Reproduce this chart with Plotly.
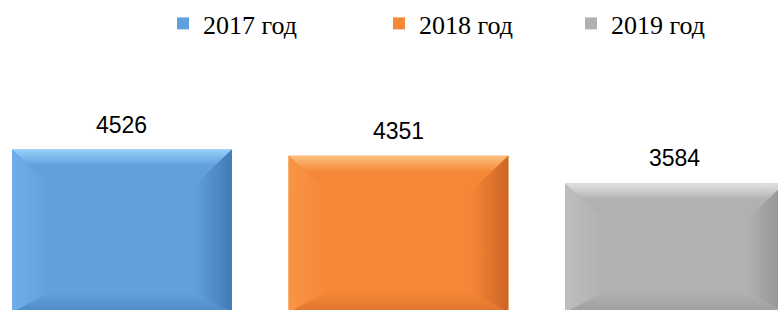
import plotly.graph_objects as go

# ---- data ----
years = ["2017 год", "2018 год", "2019 год"]
values = [4526, 4351, 3584]

# ---- style ----
face = ["rgb(98,160,221)", "rgb(245,136,55)", "rgb(177,177,177)"]
top_c = ["rgb(150,208,250)", "rgb(253,192,128)", "rgb(225,225,225)"]
left_c = ["rgb(110,174,232)", "rgb(249,148,68)", "rgb(190,190,190)"]
right_c = ["rgb(66,122,182)", "rgb(205,102,36)", "rgb(145,145,145)"]
bottom_c = ["rgb(78,138,198)", "rgb(222,116,44)", "rgb(158,158,158)"]

W, H = 778, 310
X_RANGE = [-0.441, 2.3725]
Y_RANGE = [66, 8654]
BAR_W = 0.795
px_x = W / (X_RANGE[1] - X_RANGE[0])
px_y = H / (Y_RANGE[1] - Y_RANGE[0])
BX = 38 / px_x
BY_TOP = 36 / px_y
BY_BOT = 20 / px_y

legend_x_px = [163, 379, 571]

fig = go.Figure()
legend_names = ["legend", "legend2", "legend3"]
for i, (yr, v) in enumerate(zip(years, values)):
    fig.add_trace(go.Bar(
        x=[i], y=[v], width=BAR_W, name=yr,
        marker=dict(color=face[i], line=dict(width=0)),
        legend=legend_names[i], hoverinfo="skip",
    ))

for i, v in enumerate(values):
    L, R = i - BAR_W / 2, i + BAR_W / 2
    polys = [
        # top
        ([L, R, R - BX, L + BX, L], [v, v, v - BY_TOP, v - BY_TOP, v],
         dict(type="vertical", colorscale=[[0, face[i]], [0.55, face[i]], [1, top_c[i]]])),
        # left
        ([L, L + BX, L + BX, L, L], [v, v - BY_TOP, BY_BOT, 0, v],
         dict(type="horizontal", colorscale=[[0, left_c[i]], [1, face[i]]])),
        # right
        ([R, R - BX, R - BX, R, R], [v, v - BY_TOP, BY_BOT, 0, v],
         dict(type="horizontal", colorscale=[[0, face[i]], [1, right_c[i]]])),
        # bottom
        ([L, L + BX, R - BX, R, L], [0, BY_BOT, BY_BOT, 0, 0],
         dict(type="vertical", colorscale=[[0, bottom_c[i]], [1, face[i]]])),
    ]
    for xs, ys, grad in polys:
        fig.add_trace(go.Scatter(
            x=xs, y=ys, mode="lines", fill="toself", fillgradient=grad,
            line=dict(width=0), showlegend=False, hoverinfo="skip",
        ))

for i, v in enumerate(values):
    fig.add_annotation(
        x=i, y=v, text=str(v), showarrow=False, yanchor="bottom", yshift=10,
        font=dict(family="Liberation Sans, Arial", size=23, color="#000"),
    )

legend_common = dict(
    orientation="h", xanchor="left", yanchor="middle", y=1 - 23 / H,
    font=dict(family="Liberation Serif, Times New Roman", size=26, color="#000"),
    bgcolor="rgba(0,0,0,0)", borderwidth=0,
)
layout_legends = {}
for k, name in enumerate(legend_names):
    layout_legends[name] = dict(legend_common, x=legend_x_px[k] / W)

fig.update_layout(
    width=W, height=H,
    margin=dict(l=0, r=0, t=0, b=0),
    barmode="overlay",
    paper_bgcolor="white", plot_bgcolor="white",
    xaxis=dict(range=X_RANGE, visible=False, fixedrange=True),
    yaxis=dict(range=Y_RANGE, visible=False, fixedrange=True),
    showlegend=True,
    **layout_legends,
)

fig.write_html(
    "out.html",
    config={"displayModeBar": False},
    post_script="document.body.style.margin='0';document.body.style.overflow='hidden';",
)
